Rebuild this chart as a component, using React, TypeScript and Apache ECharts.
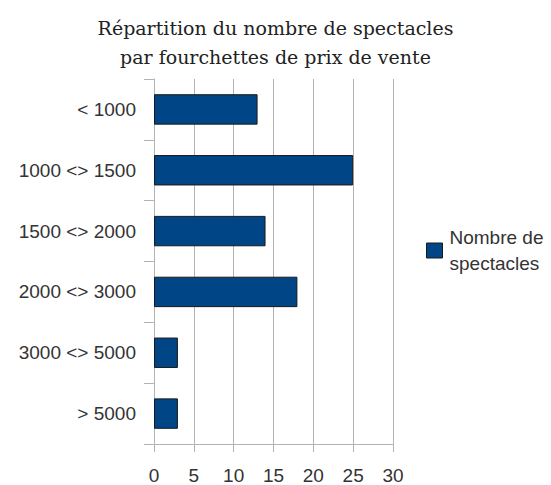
import React, { useEffect, useRef } from "react";
import * as echarts from "echarts";

const categories = ["< 1000", "1000 <> 1500", "1500 <> 2000", "2000 <> 3000", "3000 <> 5000", "> 5000"];
const values = [13, 25, 14, 18, 3, 3];
const seriesName = "Nombre de spectacles";
const titleText = "Répartition du nombre de spectacles\npar fourchettes de prix de vente";

export default function App() {
  const ref = useRef<HTMLDivElement>(null);
  useEffect(() => {
    if (!ref.current) return;
    const chart = echarts.init(ref.current, undefined, { renderer: "svg" });
    chart.setOption({
      animation: false,
      backgroundColor: "#ffffff",
      title: {
        text: titleText,
        left: "center",
        top: 8,
        textStyle: {
          fontFamily: "DejaVu Serif",
          fontWeight: "normal",
          fontSize: 19,
          lineHeight: 29,
          color: "#222",
        },
      },
      legend: {
        show: true,
        orient: "vertical",
        left: 426,
        top: 228,
        padding: 0,
        icon: "rect",
        itemWidth: 16,
        itemHeight: 15,
        itemGap: 7,
        formatter: () => "Nombre de\nspectacles",
        textStyle: {
          fontFamily: "Liberation Sans",
          fontSize: 19,
          color: "#333",
          lineHeight: 26,
          verticalAlign: "top",
          padding: [-10, 0, 0, 2],
        },
        data: [{ name: seriesName, itemStyle: { color: "#004586", borderColor: "#1a1a1a", borderWidth: 1 } }],
      },
      grid: { left: 154, right: 158, top: 79, bottom: 41, containLabel: false },
      xAxis: {
        type: "value",
        min: 0,
        max: 30,
        interval: 5,
        axisLine: { show: true, lineStyle: { color: "#b3b3b3" } },
        axisTick: { show: true, length: 8, lineStyle: { color: "#b3b3b3" } },
        splitLine: { show: true, lineStyle: { color: "#b3b3b3" } },
        axisLabel: { fontFamily: "Liberation Sans", fontSize: 19, color: "#333", margin: 22 },
      },
      yAxis: {
        type: "category",
        inverse: true,
        data: categories,
        axisLine: { show: true, lineStyle: { color: "#b3b3b3" } },
        axisTick: { show: true, length: 10, lineStyle: { color: "#b3b3b3" } },
        axisLabel: { fontFamily: "Liberation Sans", fontSize: 19, color: "#333", margin: 18 },
      },
      series: [
        {
          name: seriesName,
          type: "bar",
          data: values,
          barCategoryGap: "50%",
          itemStyle: { color: "#004586", borderColor: "#1a1a1a", borderWidth: 1 },
        },
      ],
    });
    return () => chart.dispose();
  }, []);
  return <div ref={ref} style={{ position: "fixed", left: 0, top: 0, width: 551, height: 485 }} />;
}
